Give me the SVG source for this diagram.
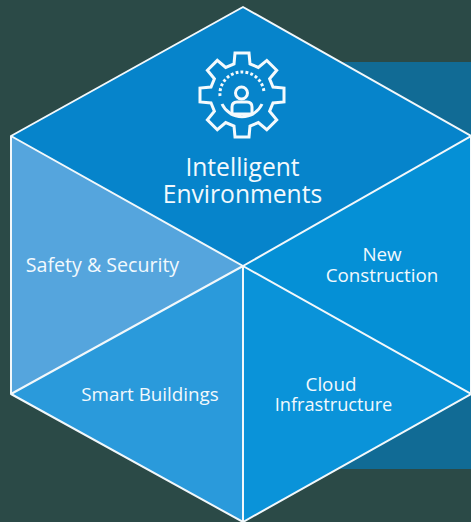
<svg xmlns="http://www.w3.org/2000/svg" width="471" height="522" viewBox="0 0 471 522">
<style>
text{font-family:"Open Sans","Noto Sans","Liberation Sans",sans-serif;fill:#f2f9fd;text-anchor:middle}
.big{font-size:24.6px}
.lab{font-size:18.8px}
.edge{stroke:#f2f8fb;stroke-width:2;fill:none;stroke-linejoin:round}
.ico{stroke:#f4fafd;stroke-width:3;fill:none;stroke-linejoin:miter}
</style>
<rect width="471" height="522" fill="#2b4a47"/>
<rect x="330" y="62" width="141" height="407" fill="#116b95"/>
<g id="top"><polygon points="243,7 471,136 243,266 11,136" fill="#0684cb"/>
<g id="gear-icon">
<path class="ico" d="M234,64 L235,53 L249,53 L250,64 L258.3,67.4 L266.8,60.4 L276.7,70.3 L269.6,78.7 L273,87 L284,88 L284,102 L273,103 L269.6,111.3 L276.7,119.8 L266.8,129.7 L258.3,122.6 L250,126 L249,137 L235,137 L234,126 L225.7,122.6 L217.3,129.7 L207.4,119.8 L214.4,111.3 L211,103 L200,102 L200,88 L211,87 L214.4,78.7 L207.4,70.3 L217.3,60.4 L225.7,67.4 Z"/>
<path class="ico" stroke-width="2.4" d="M222,104 A22,22 0 0 0 262,104"/>
<path class="ico" stroke-dasharray="2.8 2.2" d="M220,96 A22,22 0 0 1 264,92"/>
<circle class="ico" cx="241.5" cy="93" r="6"/>
<path class="ico" d="M232,114 L232,107 Q232,102 237,102 L247,102 Q252,102 252,107 L252,114 Z"/>
</g>
<text class="big" x="242.5" y="176">Intelligent</text>
<text class="big" x="242.5" y="203">Environments</text></g>
<g id="new-construction"><polygon points="243,266 471,136 471,394" fill="#0590d6"/>
<text class="lab" x="382" y="261">New</text>
<text class="lab" x="382" y="282">Construction</text></g>
<g id="cloud-infrastructure"><polygon points="243,266 471,394 243,522" fill="#0a93d9"/>
<text class="lab" x="331" y="391">Cloud</text>
<text class="lab" style="font-size:18.2px" x="333.5" y="411">Infrastructure</text></g>
<g id="smart-buildings"><polygon points="243,266 243,522 11,394" fill="#2a9adb"/>
<text class="lab" x="150" y="401">Smart Buildings</text></g>
<g id="safety-security"><polygon points="243,266 11,394 11,136" fill="#55a5dd"/>
<text class="lab" style="font-size:19.6px" x="102.5" y="272">Safety &amp; Security</text></g>
<g id="connectors">
<polygon class="edge" points="243,7 471,136 471,394 243,522 11,394 11,136"/>
<path class="edge" d="M11,136 L243,266 L471,136 M11,394 L243,266 L471,394 M243,266 L243,522"/>
</g>
</svg>
